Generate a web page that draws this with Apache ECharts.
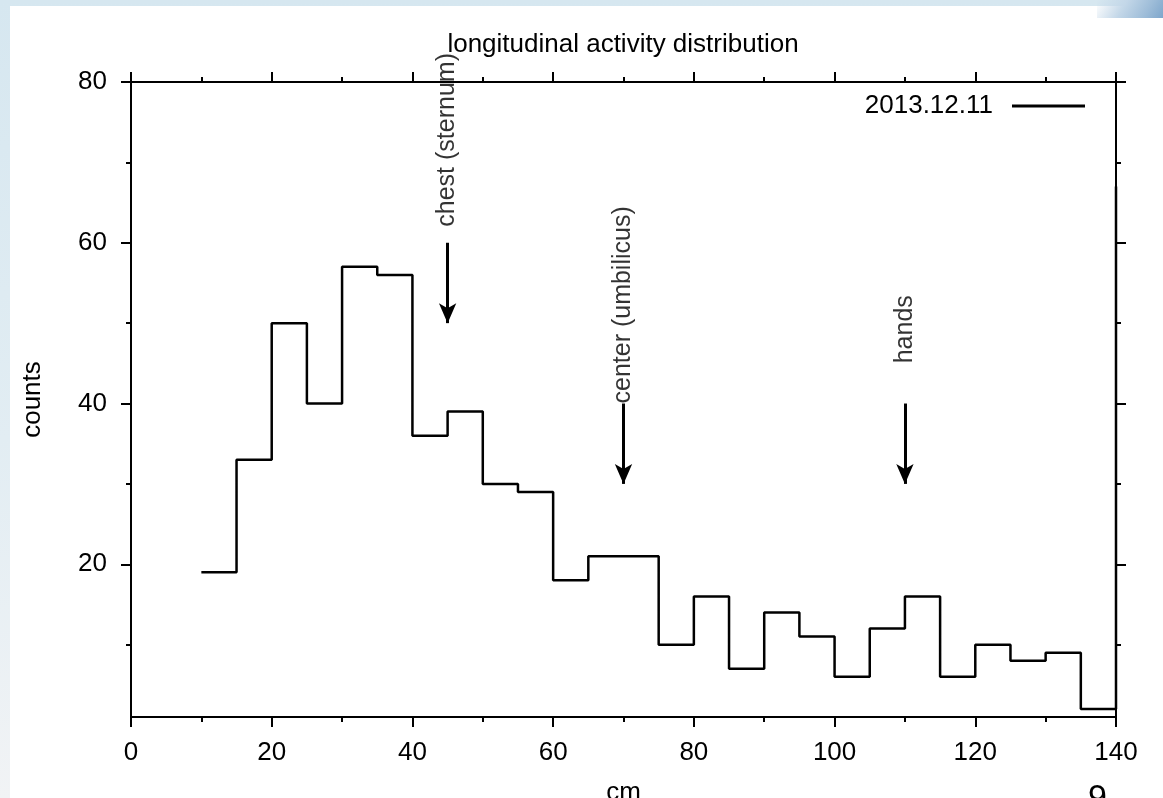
<!DOCTYPE html>
<html>
<head>
<meta charset="utf-8">
<script src="https://cdn.jsdelivr.net/npm/echarts@6/dist/echarts.min.js"></script>
<style>
  html, body { margin: 0; padding: 0; }
  #page {
    position: relative; width: 1163px; height: 798px; overflow: hidden;
    background: linear-gradient(180deg, #d6e7f0 0%, #e2edf3 55%, #f1f3f5 100%);
  }
  #sheet { position: absolute; left: 10px; top: 6px; right: 0; bottom: 0; background: #fff; }
  #swirl {
    position: absolute; right: 0; top: 0; width: 66px; height: 18px;
    background: linear-gradient(120deg, rgba(190,212,230,0) 0%, #c3d7e8 40%, #9dbcd8 75%, #7ea6cb 100%);
  }
  #chart { position: absolute; left: 0; top: 0; width: 1163px; height: 798px; }
</style>
</head>
<body>
<div id="page">
  <div id="sheet"></div>
  <div id="swirl"></div>
  <div id="chart"></div>
</div>
<script>
// histogram bins (left edge, cm) and counts, drawn as gnuplot-like steps
var cmBins = [10, 15, 20, 25, 30, 35, 40, 45, 50, 55, 60, 65, 70, 75, 80, 85, 90, 95, 100, 105, 110, 115, 120, 125, 130, 135, 140];
var counts = [19, 33, 50, 40, 57, 56, 36, 39, 30, 29, 18, 21, 21, 10, 16, 7, 14, 11, 6, 12, 16, 6, 10, 8, 9, 2, 67];

// tick labels
var yMajorTicks = [20, 40, 60, 80];
var yMinorTicks = [10, 30, 50, 70];

// annotations: arrow x, arrow from / to (counts), label position
var markNames = ['chest (sternum)', 'center (umbilicus)', 'hands'];
var markX = [45, 70, 110];
var arrowFrom = [60, 40, 40];
var arrowTo = [50, 30, 30];
var labelY = [62, 40, 45];

var seriesName = '2013.12.11';

var FONT = "'Liberation Sans', Arial, Helvetica, sans-serif";
var black = '#000';
var txt = { fontFamily: FONT, fontSize: 26, color: black };

function xAxisCfg(pos, withLabels) {
    return {
        type: 'value', position: pos, min: 0, max: 140, interval: 20,
        axisLine: { show: true, onZero: false, lineStyle: { color: black, width: 2 } },
        axisTick: { show: true, inside: false, length: 10, lineStyle: { color: black, width: 2 } },
        minorTick: { show: true, splitNumber: 2, length: 5, lineStyle: { color: black, width: 2 } },
        splitLine: { show: false },
        minorSplitLine: { show: false },
        axisLabel: Object.assign({ show: withLabels, margin: 23 }, txt),
        name: withLabels ? 'cm' : '',
        nameLocation: 'middle',
        nameGap: 63,
        nameTextStyle: txt
    };
}

function yAxisCfg(pos, ticks, len, withLine, withLabels) {
    return {
        type: 'value', position: pos, min: 1, max: 80,
        axisLine: { show: withLine, onZero: false, lineStyle: { color: black, width: 2 } },
        axisTick: { show: true, inside: false, length: len, customValues: ticks, lineStyle: { color: black, width: 2 } },
        splitLine: { show: false },
        axisLabel: Object.assign({ show: withLabels, margin: 24, customValues: ticks }, txt),
        name: withLabels ? 'counts' : '',
        nameLocation: 'middle',
        nameGap: 85,
        nameTextStyle: txt
    };
}

var chart = echarts.init(document.getElementById('chart'), null, { renderer: 'canvas' });

var option = {
    backgroundColor: 'transparent',
    animation: false,
    title: {
        text: 'longitudinal activity distribution',
        left: 623, textAlign: 'center', top: 32, padding: 0,
        textStyle: { fontFamily: FONT, fontSize: 26, fontWeight: 'normal', color: black }
    },
    legend: {
        data: [seriesName],
        right: 78, top: 93, padding: 0,
        align: 'right',
        icon: 'rect', itemWidth: 73, itemHeight: 3,
        textStyle: Object.assign({ padding: [0, 14, 0, 0] }, txt)
    },
    grid: { left: 131, right: 47, top: 82, bottom: 81, containLabel: false, outerBoundsMode: 'none' },
    xAxis: [xAxisCfg('bottom', true), xAxisCfg('top', false)],
    yAxis: [
        yAxisCfg('left', yMajorTicks, 10, true, true),
        yAxisCfg('left', yMinorTicks, 5, false, false),
        yAxisCfg('right', yMajorTicks, 10, true, false),
        yAxisCfg('right', yMinorTicks, 5, false, false)
    ],
    graphic: [{
        type: 'text', left: 1088, top: 782, silent: true,
        style: { text: '9', fontFamily: FONT, fontSize: 34, fill: black }
    }],
    series: [
        {
            name: seriesName,
            type: 'line',
            step: 'end',
            xAxisIndex: 0, yAxisIndex: 0,
            data: cmBins.map(function (x, i) { return [x, counts[i]]; }),
            symbol: 'none',
            clip: false,
            lineStyle: { color: black, width: 2.5 },
            itemStyle: { color: black }
        },
        {
            name: 'marks',
            type: 'scatter',
            xAxisIndex: 0, yAxisIndex: 0,
            silent: true,
            symbolSize: 0,
            data: markX.map(function (x, i) { return { value: [x, labelY[i]], name: markNames[i] }; }),
            label: Object.assign({
                show: true, formatter: '{b}', position: 'inside',
                align: 'left', verticalAlign: 'middle', rotate: 90
            }, txt, { fontSize: 25 }),
            markLine: {
                silent: true,
                symbol: ['none', 'arrow'],
                symbolSize: [13, 20],
                label: { show: false },
                lineStyle: { color: black, width: 3, type: 'solid' },
                data: markX.map(function (x, i) {
                    return [{ coord: [x, arrowFrom[i]] }, { coord: [x, arrowTo[i]] }];
                })
            }
        }
    ]
};

chart.setOption(option);
</script>
</body>
</html>
